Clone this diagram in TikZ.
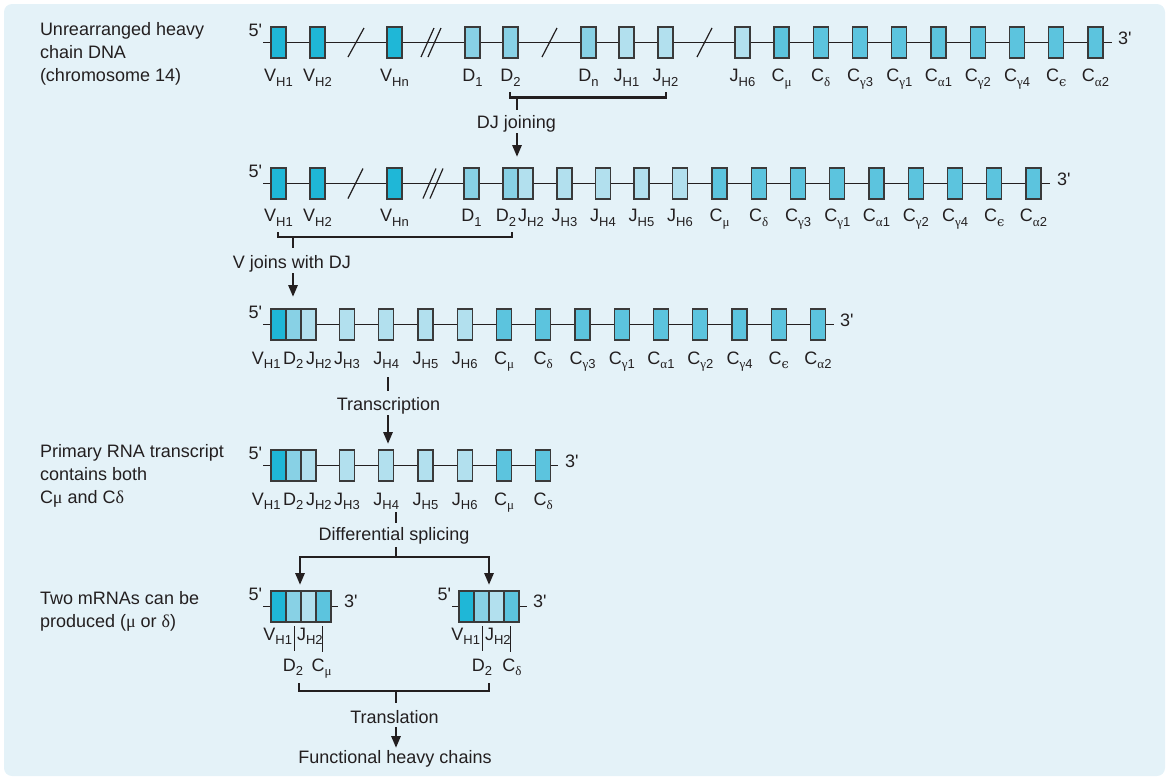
\documentclass[tikz,border=0pt]{standalone}
\usepackage{fontspec}
\setmainfont{Liberation Sans}
\newfontfamily\lsf{Liberation Sans}
\newfontfamily\gk{Liberation Serif}
\newfontfamily\gke{DejaVu Serif}
\usetikzlibrary{arrows.meta}
\definecolor{bgc}{HTML}{E4F2F8}
\definecolor{cV}{HTML}{1FB7D7}
\definecolor{cD}{HTML}{88D1E5}
\definecolor{cJ}{HTML}{B2E0EE}
\definecolor{cC}{HTML}{5CC4DE}
\definecolor{outl}{HTML}{3A3A3A}
\definecolor{ink}{HTML}{231F20}
\newcommand\lsub[1]{\raisebox{-4.5pt}{\fontsize{13}{13}\selectfont #1}}
\newcommand\gmu{{\gk μ}}
\newcommand\gdel{{\gk δ}}
\newcommand\ggam{{\gk γ}}
\newcommand\galp{{\gk α}}
\newcommand\geps{{\gke ϵ}}
\newcommand\fp[1]{{\lsf #1'}}
% gene box with centred label: name, left edge, style, label
\newcommand\gb[4]{\node[#3] (#1) at (#2+7.5,\ry) {}; \node[lbl] (#1l) at (#2+7.5,\ly) {#4};}
\newcommand\gbn[3]{\node[#3] (#1) at (#2+7.5,\ry) {};}
\begin{document}
\begin{tikzpicture}[x=1pt,y=-1pt,
  gene/.style={draw=outl,line width=1.1pt,minimum width=15pt,minimum height=31pt,inner sep=0pt,outer sep=0pt},
  vbox/.style={gene,fill=cV}, dbox/.style={gene,fill=cD}, jbox/.style={gene,fill=cJ}, cbox/.style={gene,fill=cC},
  txt/.style={font=\fontsize{18}{22}\selectfont,text=ink,inner sep=0pt,outer sep=0pt},
  lbl/.style={txt,anchor=base},
  dna/.style={draw=ink,line width=1.2pt},
  brk/.style={draw=ink,line width=2.8pt},
  arr/.style={draw=ink,line width=2.8pt,-{Triangle[length=12pt,width=9pt]}},
  sepl/.style={draw=ink,line width=1pt}]
\useasboundingbox (0,0) rectangle (1169,780);
\fill[bgc,rounded corners=8pt] (4,4) rectangle (1165,776);

% ---------------- left texts
\node[txt,anchor=base west] (t1a) at (40,35.5) {Unrearranged heavy};
\node[txt,anchor=base west] (t1b) at (40,58.5) {chain DNA};
\node[txt,anchor=base west] (t1c) at (40,81.5) {(chromosome 14)};
\node[txt,anchor=base west] (t4a) at (40,457.5) {Primary RNA transcript};
\node[txt,anchor=base west] (t4b) at (40,480.5) {contains both};
\node[txt,anchor=base west] (t4c) at (40,503.5) {C\gmu{} and C\gdel};
\node[txt,anchor=base west] (t5a) at (40,604) {Two mRNAs can be};
\node[txt,anchor=base west] (t5b) at (40,627) {produced (\gmu{} or \gdel)};

% ---------------- row 1
\def\ry{42.5}\def\ly{81.5}
\coordinate (r1s) at (263,42.5); \coordinate (r1e) at (1112,42.5);
\draw[dna] (r1s) -- (r1e);
\draw[dna] (348,57) -- (364,28);
\draw[dna] (421,57) -- (434,28); \draw[dna] (428,57) -- (441,28);
\draw[dna] (542,57) -- (557,28);
\draw[dna] (697,57) -- (712,28);
\node[txt,anchor=base east] (r1p5) at (262,36.5) {\fp{5}};
\node[txt,anchor=base west] (r1p3) at (1118,44) {\fp{3}};
\gb{r1v1}{271}{vbox}{V\lsub{H1}}
\gb{r1v2}{310}{vbox}{V\lsub{H2}}
\gb{r1vn}{387}{vbox}{V\lsub{Hn}}
\gb{r1d1}{465}{dbox}{D\lsub{1}}
\gb{r1d2}{503}{dbox}{D\lsub{2}}
\gb{r1dn}{581}{dbox}{D\lsub{n}}
\gb{r1j1}{619}{jbox}{J\lsub{H1}}
\gb{r1j2}{658}{jbox}{J\lsub{H2}}
\gb{r1j6}{735}{jbox}{J\lsub{H6}}
\gb{r1cm}{774}{cbox}{C\lsub{\gmu}}
\gb{r1cd}{813.25}{cbox}{C\lsub{\gdel}}
\gb{r1cgc}{852.5}{cbox}{C\lsub{\ggam3}}
\gb{r1cga}{891.75}{cbox}{C\lsub{\ggam1}}
\gb{r1caa}{931}{cbox}{C\lsub{\galp1}}
\gb{r1cgb}{970.25}{cbox}{C\lsub{\ggam2}}
\gb{r1cgd}{1009.5}{cbox}{C\lsub{\ggam4}}
\gb{r1ce}{1048.75}{cbox}{C\lsub{\geps}}
\gb{r1cab}{1088}{cbox}{C\lsub{\galp2}}

% DJ joining
\coordinate (b1l) at (510,92); \coordinate (b1r) at (666,92);
\coordinate (b1m) at (517,97.5); \coordinate (b1s) at (517,110);
\draw[brk] (b1l) -- (510,97.5) -- (666,97.5) -- (b1r);
\draw[brk] (b1m) -- (b1s);
\node[lbl] (tDJ) at (516.5,128) {DJ joining};
\coordinate (a1s) at (517,133); \coordinate (a1e) at (517,157);
\draw[arr] (a1s) -- (a1e);

% ---------------- row 2
\def\ry{183.5}\def\ly{221.5}
\coordinate (r2s) at (263,183.5); \coordinate (r2e) at (1050,183.5);
\draw[dna] (r2s) -- (r2e);
\draw[dna] (348,198.5) -- (363,168.5);
\draw[dna] (423,198.5) -- (436,168.5); \draw[dna] (430,198.5) -- (443,168.5);
\node[txt,anchor=base east] (r2p5) at (262,177.5) {\fp{5}};
\node[txt,anchor=base west] (r2p3) at (1057,185) {\fp{3}};
\gb{r2v1}{271}{vbox}{V\lsub{H1}}
\gb{r2v2}{310}{vbox}{V\lsub{H2}}
\gb{r2vn}{387}{vbox}{V\lsub{Hn}}
\gb{r2d1}{464}{dbox}{D\lsub{1}}
\gbn{r2d2}{503}{dbox}
\gbn{r2j2}{518}{jbox}
\node[lbl] (r2d2l) at (506,\ly) {D\lsub{2}};
\node[lbl] (r2j2l) at (531,\ly) {J\lsub{H2}};
\gb{r2j3}{557}{jbox}{J\lsub{H3}}
\gb{r2j4}{595.5}{jbox}{J\lsub{H4}}
\gb{r2j5}{634}{jbox}{J\lsub{H5}}
\gb{r2j6}{672.5}{jbox}{J\lsub{H6}}
\gb{r2cm}{712}{cbox}{C\lsub{\gmu}}
\gb{r2cd}{751.25}{cbox}{C\lsub{\gdel}}
\gb{r2cgc}{790.5}{cbox}{C\lsub{\ggam3}}
\gb{r2cga}{829.75}{cbox}{C\lsub{\ggam1}}
\gb{r2caa}{869}{cbox}{C\lsub{\galp1}}
\gb{r2cgb}{908.25}{cbox}{C\lsub{\ggam2}}
\gb{r2cgd}{947.5}{cbox}{C\lsub{\ggam4}}
\gb{r2ce}{986.75}{cbox}{C\lsub{\geps}}
\gb{r2cab}{1026}{cbox}{C\lsub{\galp2}}

% V joins with DJ
\coordinate (b2l) at (278,232); \coordinate (b2r) at (512,232);
\coordinate (b2m) at (293,237); \coordinate (b2s) at (293,248);
\draw[brk] (b2l) -- (278,237) -- (512,237) -- (b2r);
\draw[brk] (b2m) -- (b2s);
\node[lbl] (tV) at (292,268) {V joins with DJ};
\coordinate (a2s) at (293,273); \coordinate (a2e) at (293,297);
\draw[arr] (a2s) -- (a2e);

% ---------------- row 3
\def\ry{324.5}\def\ly{364}
\coordinate (r3s) at (263,324.5); \coordinate (r3e) at (834,324.5);
\draw[dna] (r3s) -- (r3e);
\node[txt,anchor=base east] (r3p5) at (262,318.5) {\fp{5}};
\node[txt,anchor=base west] (r3p3) at (840,326) {\fp{3}};
\gbn{r3v1}{271}{vbox}
\gbn{r3d2}{286}{dbox}
\gbn{r3j2}{301}{jbox}
\node[lbl,anchor=base east] (r3v1l) at (280.5,\ly) {V\lsub{H1}};
\node[lbl,anchor=base west] (r3d2l) at (283,\ly) {D\lsub{2}};
\node[lbl,anchor=base west] (r3j2l) at (306,\ly) {J\lsub{H2}};
\gb{r3j3}{339.5}{jbox}{J\lsub{H3}}
\gb{r3j4}{378.75}{jbox}{J\lsub{H4}}
\gb{r3j5}{418}{jbox}{J\lsub{H5}}
\gb{r3j6}{457.25}{jbox}{J\lsub{H6}}
\gb{r3cm}{496.5}{cbox}{C\lsub{\gmu}}
\gb{r3cd}{535.75}{cbox}{C\lsub{\gdel}}
\gb{r3cgc}{575}{cbox}{C\lsub{\ggam3}}
\gb{r3cga}{614.25}{cbox}{C\lsub{\ggam1}}
\gb{r3caa}{653.5}{cbox}{C\lsub{\galp1}}
\gb{r3cgb}{692.75}{cbox}{C\lsub{\ggam2}}
\gb{r3cgd}{732}{cbox}{C\lsub{\ggam4}}
\gb{r3ce}{771.25}{cbox}{C\lsub{\geps}}
\gb{r3cab}{810.5}{cbox}{C\lsub{\galp2}}

% Transcription
\coordinate (s3a) at (388,377); \coordinate (s3b) at (388,391);
\draw[brk] (s3a) -- (s3b);
\node[lbl] (tTr) at (388.5,410) {Transcription};
\coordinate (a3s) at (388,415); \coordinate (a3e) at (388,444);
\draw[arr] (a3s) -- (a3e);

% ---------------- row 4
\def\ry{465.5}\def\ly{505}
\coordinate (r4s) at (263,465.5); \coordinate (r4e) at (558,465.5);
\draw[dna] (r4s) -- (r4e);
\node[txt,anchor=base east] (r4p5) at (262,459.5) {\fp{5}};
\node[txt,anchor=base west] (r4p3) at (565,467) {\fp{3}};
\gbn{r4v1}{271}{vbox}
\gbn{r4d2}{286}{dbox}
\gbn{r4j2}{301}{jbox}
\node[lbl,anchor=base east] (r4v1l) at (280.5,\ly) {V\lsub{H1}};
\node[lbl,anchor=base west] (r4d2l) at (283,\ly) {D\lsub{2}};
\node[lbl,anchor=base west] (r4j2l) at (306,\ly) {J\lsub{H2}};
\gb{r4j3}{339.5}{jbox}{J\lsub{H3}}
\gb{r4j4}{378.75}{jbox}{J\lsub{H4}}
\gb{r4j5}{418}{jbox}{J\lsub{H5}}
\gb{r4j6}{457.25}{jbox}{J\lsub{H6}}
\gb{r4cm}{496.5}{cbox}{C\lsub{\gmu}}
\gb{r4cd}{535.75}{cbox}{C\lsub{\gdel}}

% Differential splicing
\coordinate (s4a) at (396,512); \coordinate (s4b) at (396,523);
\draw[brk] (s4a) -- (s4b);
\node[lbl] (tDS) at (394,540) {Differential splicing};
\coordinate (s4c) at (396,547); \coordinate (s4d) at (396,557);
\coordinate (a4l) at (300,585); \coordinate (a4r) at (489,585);
\draw[brk] (s4c) -- (s4d);
\draw[arr] (s4d) -| (a4l);
\draw[arr] (s4d) -| (a4r);

% ---------------- row 5 (mRNAs)
\def\ry{606.5}
\coordinate (m1s) at (263,606.5); \coordinate (m1e) at (338,606.5);
\coordinate (m2s) at (452,606.5); \coordinate (m2e) at (527,606.5);
\draw[dna] (m1s) -- (m1e);
\draw[dna] (m2s) -- (m2e);
\gbn{m1v}{271}{vbox}
\gbn{m1d}{286}{dbox}
\gbn{m1j}{301}{jbox}
\gbn{m1c}{316}{cbox}
\gbn{m2v}{459}{vbox}
\gbn{m2d}{474}{dbox}
\gbn{m2j}{489}{jbox}
\gbn{m2c}{504}{cbox}
\node[txt,anchor=base east] (m1p5) at (262,600) {\fp{5}};
\node[txt,anchor=base west] (m1p3) at (344,607) {\fp{3}};
\node[txt,anchor=base east] (m2p5) at (451,600) {\fp{5}};
\node[txt,anchor=base west] (m2p3) at (533,607) {\fp{3}};
% labels left mRNA
\node[lbl,anchor=base east] (m1vl) at (292,640) {V\lsub{H1}};
\node[lbl,anchor=base west] (m1jl) at (297,640) {J\lsub{H2}};
\node[lbl] (m1dl) at (293,671) {D\lsub{2}};
\node[lbl] (m1cl) at (321.5,671) {C\lsub{\gmu}};
\coordinate (m1q1) at (294,626); \coordinate (m1q2) at (294,651);
\coordinate (m1q3) at (322.5,626); \coordinate (m1q4) at (322.5,652);
\draw[sepl] (m1q1) -- (m1q2);
\draw[sepl] (m1q3) -- (m1q4);
% labels right mRNA
\node[lbl,anchor=base east] (m2vl) at (480,640) {V\lsub{H1}};
\node[lbl,anchor=base west] (m2jl) at (485,640) {J\lsub{H2}};
\node[lbl] (m2dl) at (482,671) {D\lsub{2}};
\node[lbl] (m2cl) at (512,671) {C\lsub{\gdel}};
\coordinate (m2q1) at (482.5,626); \coordinate (m2q2) at (482.5,651);
\coordinate (m2q3) at (510.5,626); \coordinate (m2q4) at (510.5,652);
\draw[sepl] (m2q1) -- (m2q2);
\draw[sepl] (m2q3) -- (m2q4);

% Translation
\coordinate (b5l) at (299,683); \coordinate (b5r) at (489,683);
\coordinate (b5m) at (396,691); \coordinate (b5s) at (396,703);
\draw[brk] (b5l) -- (299,691) -- (489,691) -- (b5r);
\draw[brk] (b5m) -- (b5s);
\node[lbl] (tTl) at (394.5,723) {Translation};
\coordinate (a5s) at (396,727); \coordinate (a5e) at (396,748);
\draw[arr] (a5s) -- (a5e);
\node[lbl] (tFH) at (395,763) {Functional heavy chains};
\end{tikzpicture}
\end{document}
